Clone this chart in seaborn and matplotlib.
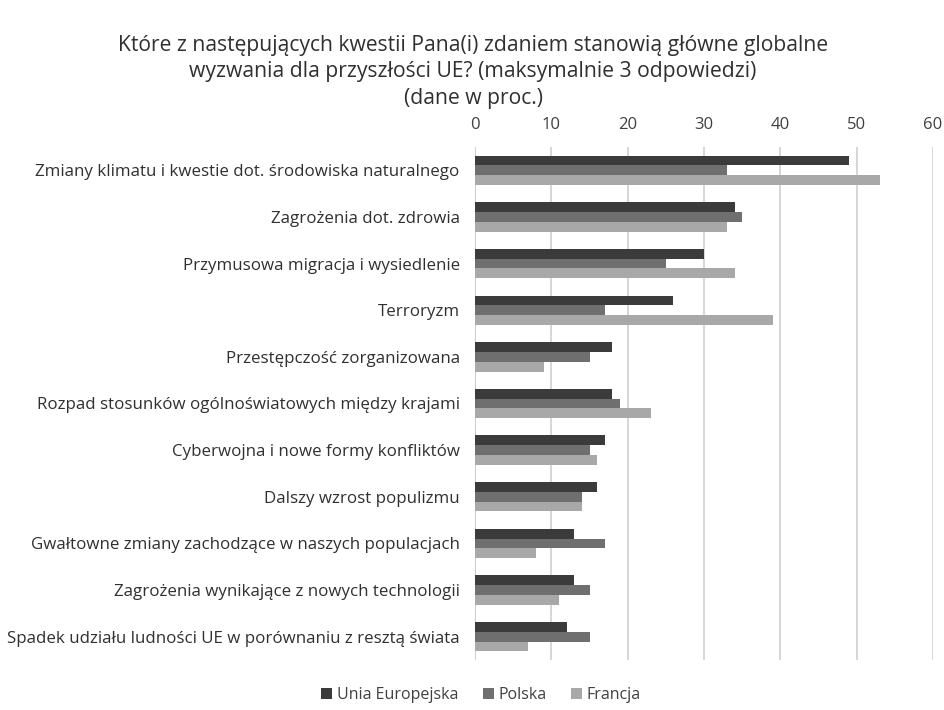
import matplotlib
matplotlib.use("Agg")
import matplotlib.pyplot as plt
import seaborn as sns
import pandas as pd

categories = [
    "Zmiany klimatu i kwestie dot. środowiska naturalnego",
    "Zagrożenia dot. zdrowia",
    "Przymusowa migracja i wysiedlenie",
    "Terroryzm",
    "Przestępczość zorganizowana",
    "Rozpad stosunków ogólnoświatowych między krajami",
    "Cyberwojna i nowe formy konfliktów",
    "Dalszy wzrost populizmu",
    "Gwałtowne zmiany zachodzące w naszych populacjach",
    "Zagrożenia wynikające z nowych technologii",
    "Spadek udziału ludności UE w porównaniu z resztą świata",
]
series_names = ["Unia Europejska", "Polska", "Francja"]
eu = [49, 34, 30, 26, 18, 18, 17, 16, 13, 13, 12]
pl = [33, 35, 25, 17, 15, 19, 15, 14, 17, 15, 15]
fr = [53, 33, 34, 39, 9, 23, 16, 14, 8, 11, 7]
xticks = [0, 10, 20, 30, 40, 50, 60]
title = ("Które z następujących kwestii Pana(i) zdaniem stanowią główne globalne\n"
         "wyzwania dla przyszłości UE? (maksymalnie 3 odpowiedzi)\n(dane w proc.)")

rows = []
for name, vals in zip(series_names, [eu, pl, fr]):
    for c, v in zip(categories, vals):
        rows.append({"kategoria": c, "seria": name, "wartosc": v})
df = pd.DataFrame(rows)

sns.set_theme(style="white")
plt.rcParams["font.family"] = ["Open Sans", "DejaVu Sans"]

fig = plt.figure(figsize=(9.44, 7.10), dpi=100)
ax = fig.add_axes([475 / 944, 1 - 660 / 710, (933 - 475) / 944, (660 - 147) / 710])

palette = {"Unia Europejska": "#3b3b3b", "Polska": "#6f6f6f", "Francja": "#a8a8a8"}
sns.barplot(data=df, y="kategoria", x="wartosc", hue="seria", order=categories,
            hue_order=series_names, palette=palette, orient="h", width=0.63,
            gap=0, saturation=1, linewidth=0, ax=ax, legend=True)

ax.set_xlim(0, 60)
ax.set_ylim(10.5, -0.5)
ax.set_xticks(xticks)
ax.xaxis.tick_top()
ax.xaxis.set_label_position("top")
ax.set_xlabel("")
ax.set_ylabel("")
ax.grid(axis="x", color="#cfcfcf", linewidth=1.2)
ax.set_axisbelow(True)
for s in ax.spines.values():
    s.set_visible(False)
ax.tick_params(axis="x", length=0, labelsize=12, labelcolor="#404040", pad=10)
ax.tick_params(axis="y", length=0, labelsize=12.2, labelcolor="#303030", pad=11)
ax.axvline(0, color="#bdbdbd", linewidth=1.2, zorder=0)

handles, labels = ax.get_legend_handles_labels()
ax.get_legend().remove()
fig.legend(handles, labels, loc="center", bbox_to_anchor=(481 / 944, 1 - 695 / 710),
           ncol=3, frameon=False, fontsize=11.5, handlelength=0.7, handleheight=0.7,
           handletextpad=0.3, columnspacing=1.5, labelcolor="#404040")

fig.text(473 / 944, 1 - 72 / 710, title, ha="center", va="center", fontsize=15.2,
         color="#303030", linespacing=1.36)

fig.savefig("out.png", dpi=100)
